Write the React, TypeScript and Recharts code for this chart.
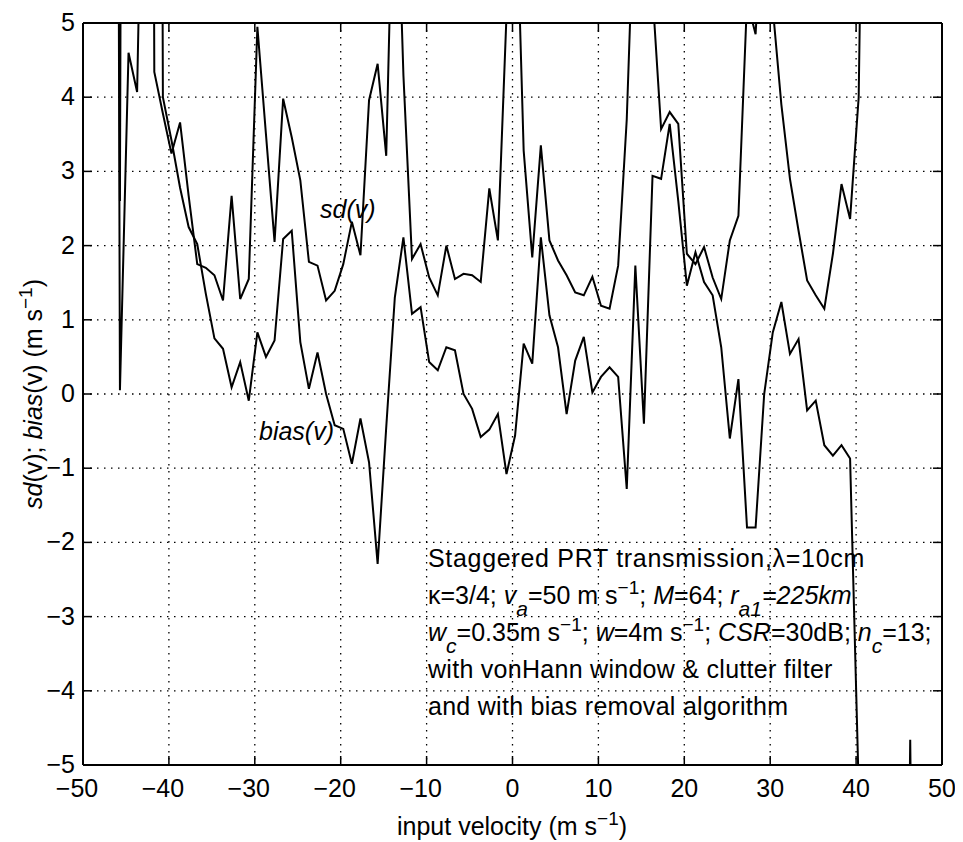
import React from 'react';
import { LineChart, Line, XAxis, YAxis, CartesianGrid } from 'recharts';

// input velocity sample positions (m/s)
const velocity = [
  -49.7, -48.7, -47.7, -46.7, -45.7, -44.7, -43.7, -42.7, -41.7, -40.7,
  -39.7, -38.7, -37.7, -36.7, -35.7, -34.7, -33.7, -32.7, -31.7, -30.7,
  -29.7, -28.7, -27.7, -26.7, -25.7, -24.7, -23.7, -22.7, -21.7, -20.7,
  -19.7, -18.7, -17.7, -16.7, -15.7, -14.7, -13.7, -12.7, -11.7, -10.7,
  -9.7, -8.7, -7.7, -6.7, -5.7, -4.7, -3.7, -2.7, -1.7, -0.7,
  0.3, 1.3, 2.3, 3.3, 4.3, 5.3, 6.3, 7.3, 8.3, 9.3,
  10.3, 11.3, 12.3, 13.3, 14.3, 15.3, 16.3, 17.3, 18.3, 19.3,
  20.3, 21.3, 22.3, 23.3, 24.3, 25.3, 26.3, 27.3, 28.3, 29.3,
  30.3, 31.3, 32.3, 33.3, 34.3, 35.3, 36.3, 37.3, 38.3, 39.3,
  40.3, 41.3, 42.3, 43.3, 44.3, 45.3, 46.3, 47.3, 48.3, 49.3,
];

// sd(v) (m/s) — values above 5 run off the top of the plot
const sdValues = [
  40, 40, 40, 40, 2.6, 40, 40, 40, 4.34, 3.78,
  3.24, 3.66, 2.67, 1.75, 1.7, 1.6, 1.26, 2.67, 1.28, 1.55,
  4.95, 3.5, 2.05, 3.98, 3.46, 2.88, 1.78, 1.73, 1.26, 1.39,
  1.75, 2.32, 1.87, 3.96, 4.45, 3.21, 8, 4.3, 1.82, 2.02,
  1.57, 1.33, 2.0, 1.55, 1.62, 1.6, 1.51, 2.77, 2.07, 5.1,
  7.3, 3.28, 1.84, 3.35, 2.07, 1.8, 1.6, 1.37, 1.33, 1.58,
  1.19, 1.15, 1.73, 3.7, 7.1, 9, 5.4, 3.57, 3.8, 3.64,
  1.89, 1.75, 1.98, 1.57, 1.28, 2.07, 2.4, 5.3, 4.85, 7,
  5.2, 3.9, 2.9, 2.2, 1.53, 1.33, 1.15, 1.89, 2.83, 2.36,
  4.0, 12, 40, 40, 40, 40, 40, 40, 40, 40,
];

// bias(v) (m/s) — values below -5 run off the bottom of the plot
const biasValues = [
  40, 40, 40, 40, 0.05, 4.6, 4.07, 10, 40, 4.0,
  3.42, 2.78, 2.25, 2.02, 1.35, 0.75, 0.61, 0.09, 0.43, -0.09,
  0.83, 0.5, 0.72, 2.09, 2.2, 0.7, 0.07, 0.56, 0.0, -0.42,
  -0.47, -0.94, -0.33, -0.92, -2.29, -0.45, 1.3, 2.11, 1.08, 1.17,
  0.43, 0.32, 0.63, 0.59, 0.0, -0.2, -0.58, -0.48, -0.27, -1.08,
  -0.56, 0.68, 0.41, 2.11, 1.06, 0.63, -0.27, 0.45, 0.77, 0.02,
  0.23, 0.36, 0.23, -1.28, 1.73, -0.4, 2.94, 2.9, 3.64, 2.6,
  1.46, 1.91, 1.51, 1.33, 0.63, -0.6, 0.2, -1.8, -1.8, 0.0,
  0.83, 1.24, 0.54, 0.74, -0.22, -0.09, -0.69, -0.83, -0.69, -0.87,
  -5.3, -15, -15, -15, -15, -15, -4.66, -15, -15, -15,
];

const xTicks = [-50, -40, -30, -20, -10, 0, 10, 20, 30, 40, 50];
const yTicks = [-5, -4, -3, -2, -1, 0, 1, 2, 3, 4, 5];

const sdData = velocity.map((v, i) => ({ v, y: sdValues[i] }));
const biasData = velocity.map((v, i) => ({ v, y: biasValues[i] }));

const FONT = '"Liberation Sans", Arial, Helvetica, sans-serif';
const FS = 25;

const fmt = (n: number) => (n < 0 ? `\u2212${Math.abs(n)}` : `${n}`);

const BottomTick = (props: any) => {
  const { x, y, payload } = props;
  const v = payload.value;
  return (
    <g>
      <line x1={x} y1={y} x2={x} y2={y - 9} stroke="#000" strokeWidth={1.5} />
      <text x={x - (v < 0 ? 6 : 0)} y={y + 32} textAnchor="middle" fontSize={FS} fontFamily={FONT} fill="#000">
        {fmt(v)}
      </text>
    </g>
  );
};

const TopTick = (props: any) => {
  const { x, y } = props;
  return <line x1={x} y1={y} x2={x} y2={y + 9} stroke="#000" strokeWidth={1.5} />;
};

const LeftTick = (props: any) => {
  const { x, y, payload } = props;
  return (
    <g>
      <line x1={x} y1={y} x2={x + 9} y2={y} stroke="#000" strokeWidth={1.5} />
      <text x={x - 8} y={y + 8} textAnchor="end" fontSize={FS} fontFamily={FONT} fill="#000">
        {fmt(payload.value)}
      </text>
    </g>
  );
};

const RightTick = (props: any) => {
  const { x, y } = props;
  return <line x1={x} y1={y} x2={x - 9} y2={y} stroke="#000" strokeWidth={1.5} />;
};

const W = 955;
const H = 834;

export default function App() {
  const sub = 12;
  const sup = 10;
  return (
    <div style={{ position: 'relative', width: W, height: H, background: '#fff' }}>
      <LineChart width={W} height={H} margin={{ top: 0, right: 0, bottom: 17, left: 10 }}>
        <CartesianGrid stroke="#000" strokeWidth={1.3} strokeDasharray="1.5 5.5" />
        <XAxis
          dataKey="v"
          type="number"
          domain={[-50, 50]}
          ticks={xTicks}
          interval={0}
          allowDataOverflow
          height={60}
          tickSize={0}
          tickMargin={0}
          tickLine={false}
          axisLine={{ stroke: '#000', strokeWidth: 2 }}
          tick={<BottomTick />}
        />
        <XAxis
          xAxisId="top"
          orientation="top"
          dataKey="v"
          type="number"
          domain={[-50, 50]}
          ticks={xTicks}
          interval={0}
          allowDataOverflow
          height={15}
          tickSize={0}
          tickMargin={0}
          tickLine={false}
          axisLine={{ stroke: '#000', strokeWidth: 2 }}
          tick={<TopTick />}
        />
        <YAxis
          type="number"
          domain={[-5, 5]}
          ticks={yTicks}
          interval={0}
          allowDataOverflow
          width={65}
          tickSize={0}
          tickMargin={0}
          tickLine={false}
          axisLine={{ stroke: '#000', strokeWidth: 2 }}
          tick={<LeftTick />}
        />
        <YAxis
          yAxisId="right"
          orientation="right"
          type="number"
          domain={[-5, 5]}
          ticks={yTicks}
          interval={0}
          allowDataOverflow
          width={21}
          tickSize={0}
          tickMargin={0}
          tickLine={false}
          axisLine={{ stroke: '#000', strokeWidth: 2 }}
          tick={<RightTick />}
        />
        <Line data={sdData} dataKey="y" type="linear" stroke="#000" strokeWidth={2} dot={false} isAnimationActive={false} />
        <Line data={biasData} dataKey="y" type="linear" stroke="#000" strokeWidth={2} dot={false} isAnimationActive={false} />
      </LineChart>
      <svg
        width={W}
        height={H}
        style={{ position: 'absolute', left: 0, top: 0, pointerEvents: 'none' }}
        fontFamily={FONT}
        fontSize={FS}
        fill="#000"
      >
        <text x={312} y={210} fontStyle="italic">sd(v)</text>
        <text x={251} y={432} fontStyle="italic">bias(v)</text>

        <text x={420} y={559} letterSpacing={0.7}>Staggered PRT transmission,λ=10cm</text>
        <text x={420} y={595.5}>
          <tspan>κ=3/4; </tspan>
          <tspan fontStyle="italic">v</tspan>
          <tspan dy={sub} fontSize={21} fontStyle="italic">a</tspan>
          <tspan dy={-sub}>=50 m s</tspan>
          <tspan dy={-sup} fontSize={19}>−1</tspan>
          <tspan dy={sup}>; </tspan>
          <tspan fontStyle="italic">M</tspan>
          <tspan>=64; </tspan>
          <tspan fontStyle="italic">r</tspan>
          <tspan dy={sub} fontSize={21} fontStyle="italic">a1</tspan>
          <tspan dy={-sub} fontStyle="italic">=225km</tspan>
        </text>
        <text x={420} y={632.5}>
          <tspan fontStyle="italic">w</tspan>
          <tspan dy={sub} fontSize={21} fontStyle="italic">c</tspan>
          <tspan dy={-sub}>=0.35m s</tspan>
          <tspan dy={-sup} fontSize={19}>−1</tspan>
          <tspan dy={sup}>; </tspan>
          <tspan fontStyle="italic">w</tspan>
          <tspan>=4m s</tspan>
          <tspan dy={-sup} fontSize={19}>−1</tspan>
          <tspan dy={sup}>; </tspan>
          <tspan fontStyle="italic">CSR</tspan>
          <tspan>=30dB; </tspan>
          <tspan fontStyle="italic">n</tspan>
          <tspan dy={sub} fontSize={21} fontStyle="italic">c</tspan>
          <tspan dy={-sub}>=13;</tspan>
        </text>
        <text x={420} y={669.5} letterSpacing={0.28}>with vonHann window &amp; clutter filter</text>
        <text x={420} y={706.5} letterSpacing={0.28}>and with bias removal algorithm</text>

        <text x={504} y={827} textAnchor="middle">
          <tspan>input velocity (m s</tspan>
          <tspan dy={-sup} fontSize={19}>−1</tspan>
          <tspan dy={sup}>)</tspan>
        </text>

        <text x={0} y={0} textAnchor="middle" transform="translate(34 386) rotate(-90)">
          <tspan fontStyle="italic">sd</tspan>
          <tspan>(v); </tspan>
          <tspan fontStyle="italic">bias</tspan>
          <tspan>(v) (m s</tspan>
          <tspan dy={-sup} fontSize={19}>−1</tspan>
          <tspan dy={sup}>)</tspan>
        </text>
      </svg>
    </div>
  );
}
